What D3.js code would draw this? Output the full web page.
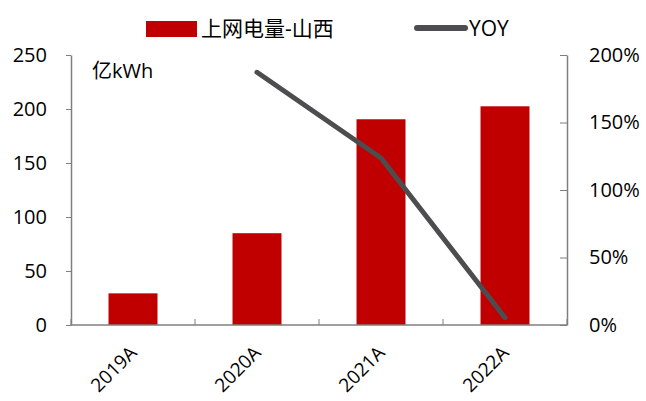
<!DOCTYPE html>
<html>
<head>
<meta charset="utf-8">
<script src="https://cdn.jsdelivr.net/npm/d3@7"></script>
<style>
  body { margin: 0; background: #fff; }
  text { font-family: "Open Sans", "Noto Sans CJK SC", sans-serif; fill: #000; }
</style>
</head>
<body>
<div id="chart"></div>
<script>
const categories = ['2019A', '2020A', '2021A', '2022A'];
const power = [29.3, 85, 190.5, 202.5];
const yoy = [null, 1.872, 1.237, 0.054];
const leftTicks = [0, 50, 100, 150, 200, 250];
const rightTicks = [0, 0.5, 1, 1.5, 2];

const width = 646, height = 401;
const margin = { top: 55, right: 79, bottom: 76, left: 71 };
const barColor = '#c00000';
const lineColor = '#4d4d4f';
const axisColor = '#7f7f7f';

const svg = d3.select('#chart').append('svg')
  .attr('width', width)
  .attr('height', height);

const x = d3.scaleBand()
  .domain(categories)
  .range([margin.left, width - margin.right])
  .paddingInner(0.605)
  .paddingOuter(0.3025);

const y = d3.scaleLinear().domain([0, 250]).range([height - margin.bottom, margin.top]);
const y2 = d3.scaleLinear().domain([0, 2]).range([height - margin.bottom, margin.top]);

// bars
svg.append('g').selectAll('rect')
  .data(categories)
  .enter()
  .append('rect')
  .attr('x', d => x(d))
  .attr('y', (d, i) => y(power[i]))
  .attr('width', x.bandwidth())
  .attr('height', (d, i) => y(0) - y(power[i]))
  .attr('fill', barColor);

// left axis
const leftAxis = svg.append('g')
  .attr('transform', `translate(${margin.left},0)`)
  .call(d3.axisLeft(y).tickValues(leftTicks).tickSize(5).tickSizeOuter(0).tickPadding(19));
leftAxis.selectAll('text').style('font-size', '20px');

// right axis
const rightAxis = svg.append('g')
  .attr('transform', `translate(${width - margin.right},0)`)
  .call(d3.axisRight(y2).tickValues(rightTicks).tickFormat(d3.format('.0%')).tickSize(-7).tickSizeOuter(0).tickPadding(22));
rightAxis.selectAll('text').style('font-size', '20px');

// bottom axis with boundary ticks
const bottom = svg.append('g');
bottom.append('line')
  .attr('x1', margin.left).attr('x2', width - margin.right)
  .attr('y1', y(0)).attr('y2', y(0))
  .attr('stroke', axisColor).attr('stroke-width', 1.5);
const step = x.step();
bottom.selectAll('line.tk')
  .data(d3.range(categories.length + 1))
  .enter()
  .append('line')
  .attr('class', 'tk')
  .attr('x1', i => margin.left + i * step)
  .attr('x2', i => margin.left + i * step)
  .attr('y1', y(0))
  .attr('y2', y(0) - 6)
  .attr('stroke', axisColor);
bottom.selectAll('text')
  .data(categories)
  .enter()
  .append('text')
  .attr('text-anchor', 'end')
  .attr('transform', d => `translate(${x(d) + x.bandwidth() / 2 + 5},${y(0) + 29}) rotate(-45)`)
  .style('font-size', '19px')
  .text(d => d);

svg.selectAll('.domain, .tick line').attr('stroke', axisColor);
svg.selectAll('.domain').attr('stroke-width', 1.5);

// line
const pts = categories.map((c, i) => ({ c, v: yoy[i] })).filter(d => d.v !== null);
svg.append('path')
  .datum(pts)
  .attr('fill', 'none')
  .attr('stroke', lineColor)
  .attr('stroke-width', 5)
  .attr('stroke-linecap', 'round')
  .attr('stroke-linejoin', 'round')
  .attr('d', d3.line().x(d => x(d.c) + x.bandwidth() / 2).y(d => y2(d.v)));

// unit
svg.append('text')
  .attr('x', 92).attr('y', 78)
  .style('font-size', '20px')
  .text('亿kWh');

// legend
const legend = svg.append('g');
legend.append('rect')
  .attr('x', 146).attr('y', 21).attr('width', 51).attr('height', 16)
  .attr('fill', barColor);
legend.append('text')
  .attr('x', 201).attr('y', 36)
  .style('font-size', '21px')
  .text('上网电量-山西');
legend.append('line')
  .attr('x1', 417).attr('x2', 465).attr('y1', 28).attr('y2', 28)
  .attr('stroke', lineColor).attr('stroke-width', 6).attr('stroke-linecap', 'round');
legend.append('text')
  .attr('x', 469).attr('y', 36)
  .style('font-size', '21px')
  .text('YOY');
</script>
</body>
</html>
